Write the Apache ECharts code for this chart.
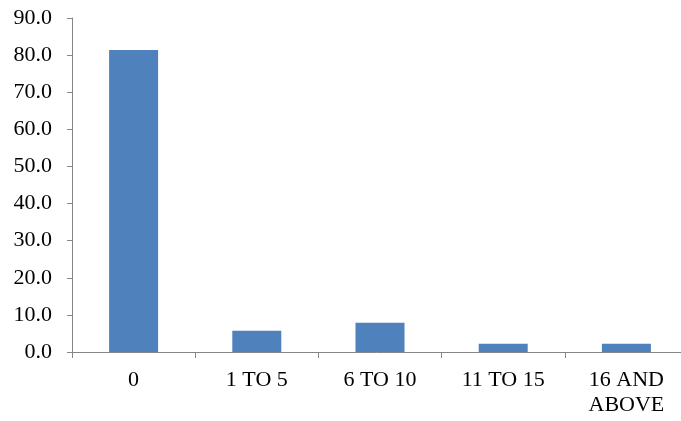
<!DOCTYPE html>
<html>
<head>
<meta charset="utf-8">
<script src="https://cdn.jsdelivr.net/npm/echarts@6/dist/echarts.min.js"></script>
<style>
html,body{margin:0;padding:0;background:#fff;}
#c{width:681px;height:421px;}
</style>
</head>
<body>
<div id="c"></div>
<script>
const categories = ['0', '1 TO 5', '6 TO 10', '11 TO 15', '16 AND\nABOVE'];
const values = [81.4, 5.7, 7.9, 2.2, 2.2];
const yTicks = { min: 0, max: 90, interval: 10 };

const chart = echarts.init(document.getElementById('c'), null, { renderer: 'canvas' });
const font = "'Liberation Serif', 'Times New Roman', serif";
chart.setOption({
  animation: false,
  backgroundColor: '#ffffff',
  grid: { left: 72, width: 616, top: 18, height: 334, containLabel: false, outerBoundsMode: 'none' },
  xAxis: {
    type: 'category',
    data: categories,
    axisLine: { lineStyle: { color: '#868686', width: 1 } },
    axisTick: { show: true, length: 6, lineStyle: { color: '#868686' } },
    axisLabel: { color: '#000', fontFamily: font, fontSize: 22, margin: 16, lineHeight: 25, interval: 0 },
    splitLine: { show: false }
  },
  yAxis: {
    type: 'value',
    min: yTicks.min, max: yTicks.max, interval: yTicks.interval,
    axisLine: { show: true, lineStyle: { color: '#868686', width: 1 } },
    axisTick: { show: true, length: 5, lineStyle: { color: '#868686' } },
    axisLabel: { color: '#000', fontFamily: font, fontSize: 22, margin: 20, formatter: v => v.toFixed(1) },
    splitLine: { show: false }
  },
  series: [{
    type: 'bar',
    data: values,
    barWidth: 49,
    itemStyle: { color: '#4F81BD' }
  }]
});
</script>
</body>
</html>
